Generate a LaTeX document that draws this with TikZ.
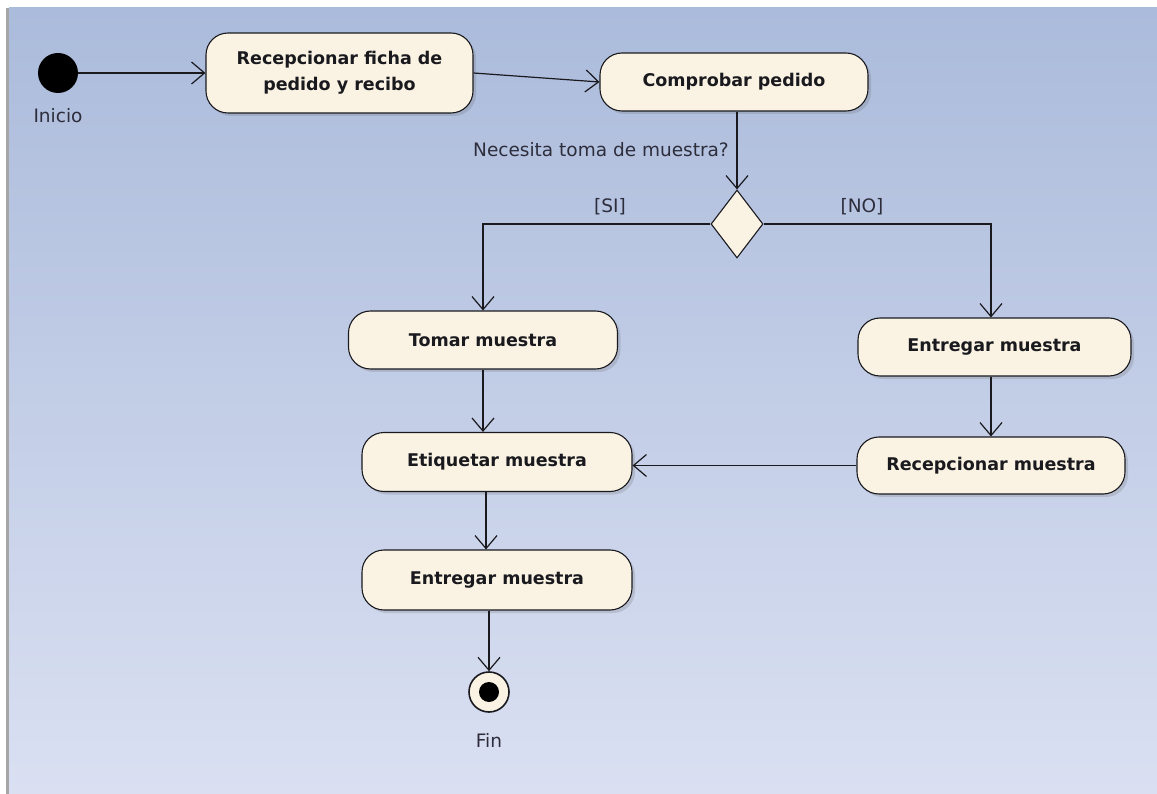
\documentclass[tikz,border=0pt]{standalone}
\usepackage{fontspec}
\setmainfont{DejaVu Sans}
\usetikzlibrary{arrows.meta,shapes.geometric,shadows}
\definecolor{bgtop}{RGB}{171,187,219}
\definecolor{bgbot}{RGB}{218,224,242}
\definecolor{cream}{RGB}{250,243,228}
\definecolor{ink}{RGB}{25,25,30}
\definecolor{labelink}{RGB}{45,45,60}
\tikzset{
  act/.style={draw=ink, line width=1.1pt, rounded corners=22pt, fill=cream,
    inner sep=0pt, align=center, text=ink,
    font=\bfseries\fontsize{17.5}{26}\selectfont,
    drop shadow={shadow xshift=3pt, shadow yshift=-3pt, opacity=0.22, fill=black!60}},
  flow/.style={draw=ink, line width=1.2pt,
    -{Straight Barb[length=13pt,width=22pt,line width=1.2pt]}},
  lbl/.style={text=labelink, font=\fontsize{18.5}{22}\selectfont, inner sep=0pt}
}
\begin{document}
\begin{tikzpicture}[x=1pt,y=-1pt]
  \useasboundingbox (0,0) rectangle (1157,794);
  % canvas
  \fill[white] (0,0) rectangle (1157,794);
  \shade[top color=bgtop, bottom color=bgbot] (9,8) rectangle (1157,794);
  \fill[black!35] (6,8) rectangle (9,794);

  % initial and final nodes
  \node[circle, fill=black, minimum size=40pt, inner sep=0pt] (ini) at (58,73) {};
  \node[lbl] (inilbl) at (58,116) {Inicio};

  % actions
  \node[act, minimum width=267pt, minimum height=80pt] (rfp) at (339.5,73)
    {Recepcionar ficha de\\pedido y recibo};
  \node[act, minimum width=268pt, minimum height=58pt] (comp) at (734,82)
    {Comprobar pedido};
  \node[diamond, draw=ink, line width=1.1pt, fill=cream, inner sep=0pt,
        minimum width=52pt, minimum height=68pt] (dec) at (737,224) {};
  \node[act, minimum width=269pt, minimum height=58pt] (tom) at (483,340)
    {Tomar muestra};
  \node[act, minimum width=273pt, minimum height=58pt] (entr) at (994.5,347)
    {Entregar muestra};
  \node[act, minimum width=270pt, minimum height=59pt] (etq) at (497,462)
    {Etiquetar muestra};
  \node[act, minimum width=268pt, minimum height=57pt] (recm) at (991,465.5)
    {Recepcionar muestra};
  \node[act, minimum width=270pt, minimum height=60pt] (entb) at (497,580)
    {Entregar muestra};

  \node[circle, draw=ink, line width=1.6pt, fill=cream, minimum size=40pt,
        inner sep=0pt] (fin) at (489,692) {};
  \fill[black] (fin.center) circle (10pt);
  \node[lbl] (finlbl) at (489,740) {Fin};

  % guard and question labels
  \node[lbl, anchor=east] (q) at (729,150) {Necesita toma de muestra?};
  \node[lbl] (si) at (610,207) {[SI]};
  \node[lbl] (no) at (862,207) {[NO]};

  % control flows
  \draw[flow] (ini) -- (rfp.west);
  \draw[flow] (rfp.east) -- (comp.west);
  \draw[flow] (comp.south -| dec.north) -- (dec.north);
  \draw[flow] (dec.west) -| (tom.north);
  \draw[flow] (dec.east) -| (recm.north |- entr.north);
  \draw[flow] (tom.south) -- (tom.south |- etq.north);
  \draw[flow] (recm.north |- entr.south) -- (recm.north);
  \draw[flow] (recm.west) -- (recm.west -| etq.east);
  \draw[flow] ([xshift=-11pt]etq.south) -- ([xshift=-11pt]entb.north);
  \draw[flow] ([xshift=-8pt]entb.south) -- (fin.north);
\end{tikzpicture}
\end{document}
